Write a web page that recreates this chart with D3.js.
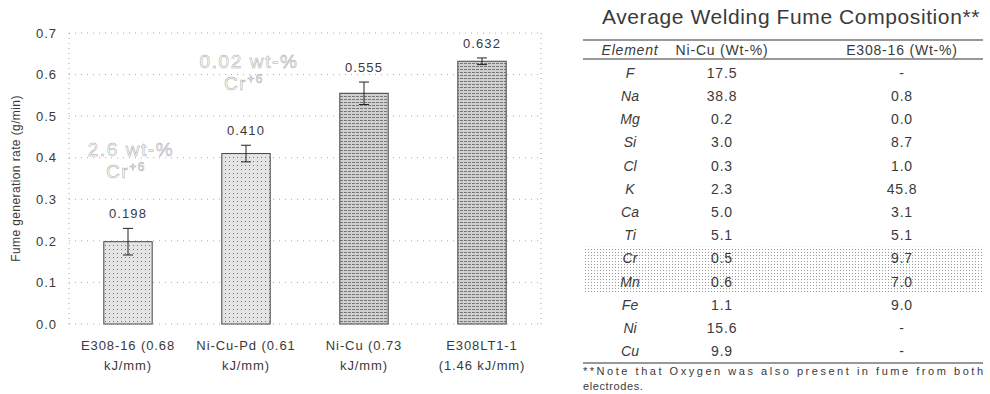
<!DOCTYPE html>
<html>
<head>
<meta charset="utf-8">
<script src="https://cdn.jsdelivr.net/npm/d3@7"></script>
<style>
  body { margin: 0; background: #fff; }
  text { font-family: "Liberation Sans", Arial, sans-serif; fill: #3a3a3a; }
</style>
</head>
<body>
<div id="chart"></div>
<script>
// Chart data
const labelLines = [["E308-16 (0.68", "kJ/mm)"], ["Ni-Cu-Pd (0.61", "kJ/mm)"], ["Ni-Cu (0.73", "kJ/mm)"], ["E308LT1-1", "(1.46 kJ/mm)"]];
const rates = [0.198, 0.410, 0.555, 0.632];
const rateErrors = [0.032, 0.020, 0.027, 0.008];
const rateLabels = ["0.198", "0.410", "0.555", "0.632"];
const yTicks = [0, 0.1, 0.2, 0.3, 0.4, 0.5, 0.6, 0.7];

// Table data
const elements = ["F", "Na", "Mg", "Si", "Cl", "K", "Ca", "Ti", "Cr", "Mn", "Fe", "Ni", "Cu"];
const niCu = ["17.5", "38.8", "0.2", "3.0", "0.3", "2.3", "5.0", "5.1", "0.5", "0.6", "1.1", "15.6", "9.9"];
const e308 = ["-", "0.8", "0.0", "8.7", "1.0", "45.8", "3.1", "5.1", "9.7", "7.0", "9.0", "-", "-"];
const shadedRows = ["Cr", "Mn"];

const w = 990, h = 394;
const plot = {left: 69, right: 541, top: 33, bottom: 324};

const svg = d3.select('#chart')
	.append('svg')
	.attr('width', w)
	.attr('height', h);

// Patterns for bar fills
const defs = svg.append('defs');
const dots = defs.append('pattern')
	.attr('id', 'dots')
	.attr('width', 4).attr('height', 4)
	.attr('patternUnits', 'userSpaceOnUse');
dots.append('rect').attr('width', 4).attr('height', 4).attr('fill', '#e4e4e4');
dots.append('rect').attr('x', 1).attr('y', 1).attr('width', 1).attr('height', 1).attr('fill', '#777');

const lines = defs.append('pattern')
	.attr('id', 'lines')
	.attr('width', 4).attr('height', 3)
	.attr('patternUnits', 'userSpaceOnUse');
lines.append('rect').attr('width', 4).attr('height', 3).attr('fill', '#d0d0d0');
lines.append('rect').attr('x', 0).attr('y', 0).attr('width', 3).attr('height', 1).attr('fill', '#777');

const tdots = defs.append('pattern')
	.attr('id', 'tdots')
	.attr('width', 3).attr('height', 3)
	.attr('patternUnits', 'userSpaceOnUse');
tdots.append('rect').attr('width', 3).attr('height', 3).attr('fill', '#fff');
tdots.append('rect').attr('width', 1).attr('height', 1).attr('fill', '#999');

// Scales
const xScale = d3.scaleBand()
	.domain(d3.range(rates.length))
	.range([plot.left, plot.right])
	.paddingInner(0.59)
	.paddingOuter(0.295);

const yScale = d3.scaleLinear()
	.domain([0, 0.7])
	.range([plot.bottom, plot.top]);

// Grid lines
svg.append('g')
	.selectAll('line')
	.data(yTicks)
	.enter()
	.append('line')
	.attr('x1', plot.left)
	.attr('x2', plot.right)
	.attr('y1', (d) => yScale(d))
	.attr('y2', (d) => yScale(d))
	.attr('stroke', '#aaa')
	.attr('stroke-dasharray', '1,5');

svg.append('g')
	.selectAll('line')
	.data([plot.left, plot.right])
	.enter()
	.append('line')
	.attr('x1', (d) => d)
	.attr('x2', (d) => d)
	.attr('y1', plot.top)
	.attr('y2', plot.bottom)
	.attr('stroke', '#aaa')
	.attr('stroke-dasharray', '1,4');

// Y axis
const y_axis = d3.axisLeft(yScale)
	.tickValues(yTicks)
	.tickFormat(d3.format('.1f'))
	.tickSize(0)
	.tickPadding(12);

svg.append('g')
	.attr('transform', 'translate(' + plot.left + ',0)')
	.call(y_axis)
	.call((g) => g.select('.domain').remove())
	.selectAll('text')
	.style('font-family', '"Liberation Sans", Arial, sans-serif')
	.style('font-size', '13px')
	.style('letter-spacing', '1px')
	.attr('fill', '#4a4a4a');

svg.append('text')
	.attr('transform', 'translate(20,' + yScale(0.35) + ') rotate(-90)')
	.attr('text-anchor', 'middle')
	.style('font-size', '12px')
	.style('letter-spacing', '0.4px')
	.attr('fill', '#4a4a4a')
	.text('Fume generation rate (g/min)');

// Bars
svg.selectAll('.bar')
	.data(rates)
	.enter()
	.append('rect')
	.attr('class', 'bar')
	.attr('x', (d, i) => xScale(i))
	.attr('y', (d) => yScale(d))
	.attr('width', xScale.bandwidth())
	.attr('height', (d) => yScale(0) - yScale(d))
	.attr('fill', (d, i) => i < 2 ? 'url(#dots)' : 'url(#lines)')
	.attr('stroke', '#444')
	.attr('stroke-width', 1);

// Error bars
const err = svg.append('g')
	.selectAll('g')
	.data(rates)
	.enter()
	.append('g')
	.attr('stroke', '#222')
	.attr('stroke-width', 1);
const cx = (i) => xScale(i) + xScale.bandwidth() / 2;
err.append('line')
	.attr('x1', (d, i) => cx(i)).attr('x2', (d, i) => cx(i))
	.attr('y1', (d, i) => yScale(d + rateErrors[i]))
	.attr('y2', (d, i) => yScale(d - rateErrors[i]));
err.append('line')
	.attr('x1', (d, i) => cx(i) - 5).attr('x2', (d, i) => cx(i) + 5)
	.attr('y1', (d, i) => yScale(d + rateErrors[i]))
	.attr('y2', (d, i) => yScale(d + rateErrors[i]));
err.append('line')
	.attr('x1', (d, i) => cx(i) - 5).attr('x2', (d, i) => cx(i) + 5)
	.attr('y1', (d, i) => yScale(d - rateErrors[i]))
	.attr('y2', (d, i) => yScale(d - rateErrors[i]));

// Value labels
svg.selectAll('.val')
	.data(rates)
	.enter()
	.append('text')
	.attr('class', 'val')
	.attr('x', (d, i) => cx(i))
	.attr('y', (d, i) => yScale(d + rateErrors[i]) - 10)
	.attr('text-anchor', 'middle')
	.style('font-size', '13px')
	.style('letter-spacing', '1.1px')
	.attr('fill', '#444')
	.text((d, i) => rateLabels[i]);

// Category labels
const cat = svg.selectAll('.cat')
	.data(labelLines)
	.enter()
	.append('text')
	.attr('class', 'cat')
	.attr('text-anchor', 'middle')
	.style('font-size', '13px')
	.style('letter-spacing', '0.9px')
	.attr('fill', '#444');
cat.selectAll('tspan')
	.data((d, i) => d.map((t) => ({t: t, i: i})))
	.enter()
	.append('tspan')
	.attr('x', (d) => cx(d.i))
	.attr('y', (d, j) => 350 + j * 20)
	.text((d) => d.t);

// Hollow annotations
const notes = [{i: 0, y: 0.405, pct: '2.6 wt-%'}, {i: 1, y: 0.615, pct: '0.02 wt-%'}];
const ann = svg.selectAll('.ann')
	.data(notes)
	.enter()
	.append('text')
	.attr('class', 'ann')
	.attr('text-anchor', 'middle')
	.style('font-size', '19px')
	.style('letter-spacing', '1.6px')
	.style('fill', '#fdfdfd')
	.attr('stroke', '#a8a8a8')
	.attr('stroke-width', 0.5);
ann.append('tspan')
	.attr('x', (d) => cx(d.i) + 3)
	.attr('y', (d) => yScale(d.y))
	.text((d) => d.pct);
ann.append('tspan')
	.attr('x', (d) => cx(d.i) - 2)
	.attr('dy', 22)
	.text('Cr');
ann.append('tspan')
	.attr('dy', -7)
	.style('font-size', '12px')
	.text('+6');

// Table
const tbl = {left: 583, right: 983};
svg.append('text')
	.attr('x', 791)
	.attr('y', 24)
	.attr('text-anchor', 'middle')
	.style('font-size', '21px')
	.style('letter-spacing', '0.6px')
	.attr('fill', '#222')
	.text('Average Welding Fume Composition**');

const colX = [630, 722, 902];
const rowScale = d3.scaleBand()
	.domain(elements)
	.range([61, 363]);

svg.selectAll('.shade')
	.data(shadedRows)
	.enter()
	.append('rect')
	.attr('x', tbl.left)
	.attr('width', tbl.right - tbl.left)
	.attr('y', (d) => rowScale(d))
	.attr('height', rowScale.bandwidth())
	.attr('fill', 'url(#tdots)');

svg.selectAll('.rule')
	.data([40, 59, 363])
	.enter()
	.append('line')
	.attr('x1', tbl.left).attr('x2', tbl.right)
	.attr('y1', (d) => d).attr('y2', (d) => d)
	.attr('stroke', '#333')
	.attr('stroke-width', 1.2);

const header = ['Element', 'Ni-Cu (Wt-%)', 'E308-16 (Wt-%)'];
svg.selectAll('.hdr')
	.data(header)
	.enter()
	.append('text')
	.attr('x', (d, i) => colX[i])
	.attr('y', 50)
	.attr('dominant-baseline', 'central')
	.attr('text-anchor', 'middle')
	.style('font-size', '14px')
	.style('letter-spacing', '0.8px')
	.style('font-style', (d, i) => i === 0 ? 'italic' : 'normal')
	.text((d) => d);

const rows = svg.selectAll('.row')
	.data(elements)
	.enter()
	.append('g')
	.attr('transform', (d) => 'translate(0,' + (rowScale(d) + rowScale.bandwidth() / 2) + ')');
rows.append('text')
	.attr('x', colX[0])
	.attr('text-anchor', 'middle')
	.attr('dominant-baseline', 'central')
	.style('font-size', '14px')
	.style('font-style', 'italic')
	.text((d) => d);
rows.append('text')
	.attr('x', colX[1])
	.attr('text-anchor', 'middle')
	.attr('dominant-baseline', 'central')
	.style('font-size', '14px')
	.style('letter-spacing', '0.8px')
	.text((d, i) => niCu[i]);
rows.append('text')
	.attr('x', colX[2])
	.attr('text-anchor', 'middle')
	.attr('dominant-baseline', 'central')
	.style('font-size', '14px')
	.style('letter-spacing', '0.8px')
	.text((d, i) => e308[i]);

svg.append('text')
	.attr('x', tbl.left)
	.attr('y', 375)
	.attr('textLength', tbl.right - tbl.left)
	.style('font-size', '11px')
	.attr('fill', '#444')
	.text('**Note that Oxygen was also present in fume from both');
svg.append('text')
	.attr('x', tbl.left)
	.attr('y', 390)
	.style('font-size', '11px')
	.style('letter-spacing', '0.6px')
	.attr('fill', '#444')
	.text('electrodes.');
</script>
</body>
</html>
